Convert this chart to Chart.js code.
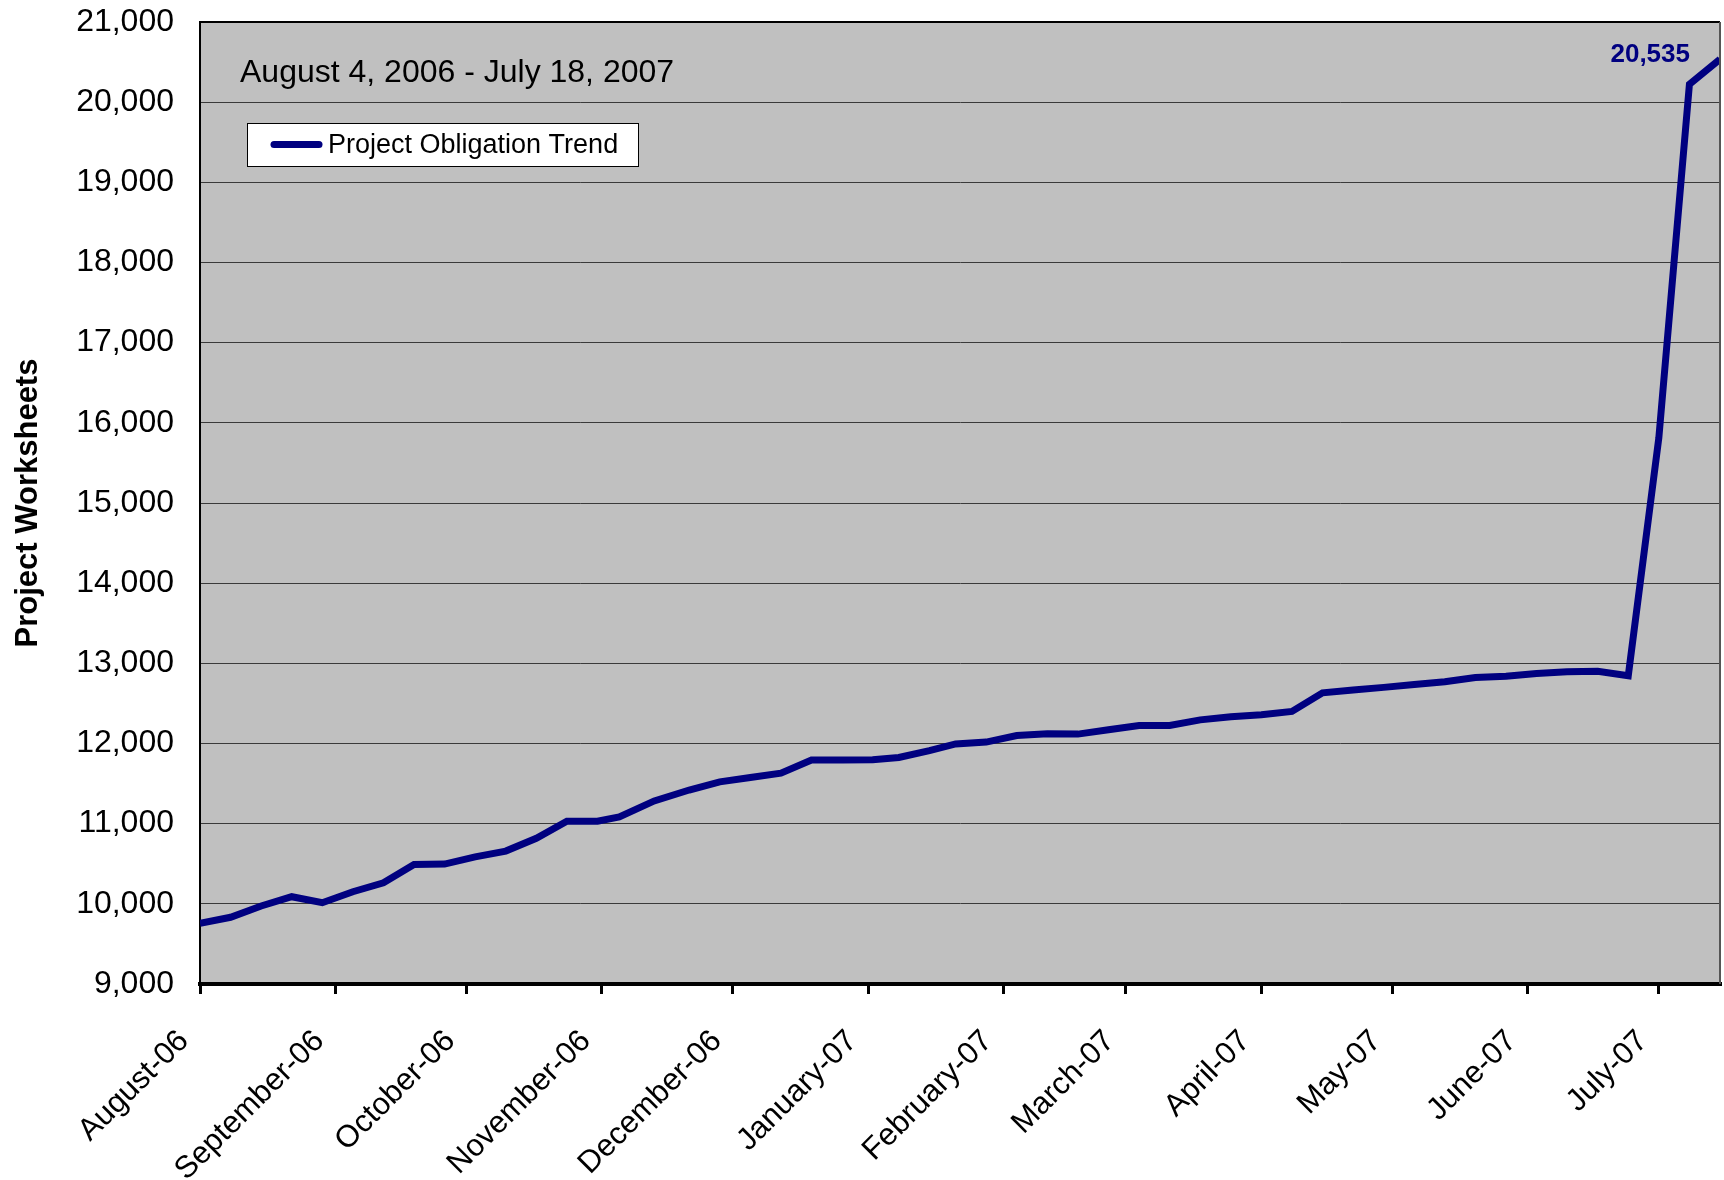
<!DOCTYPE html>
<html>
<head>
<meta charset="utf-8">
<script src="https://cdn.jsdelivr.net/npm/chart.js@4.4.0/dist/chart.umd.min.js"></script>
<style>
  html, body { margin: 0; padding: 0; background: #ffffff; }
  canvas { display: block; }
</style>
</head>
<body>
<canvas id="c" width="1724" height="1180"></canvas>
<script>
// ---- data ----
const subtitle = "August 4, 2006 - July 18, 2007";
const seriesName = "Project Obligation Trend";
const yTitle = "Project Worksheets";
// days since August 4, 2006
const days = [0,7,14,21,28,35,42,49,56,63,70,77,84,91,96,104,112,119,126,133,140,147,154,160,167,173,180,187,194,201,208,215,222,229,236,243,250,257,264,271,278,285,292,299,306,313,320,327,334,341,348];
const values = [9757,9832,9973,10089,10014,10151,10263,10490,10496,10585,10658,10817,11030,11030,11083,11284,11420,11522,11575,11630,11793,11793,11796,11825,11910,11995,12018,12100,12122,12117,12172,12225,12225,12295,12333,12360,12400,12632,12666,12700,12735,12770,12824,12840,12874,12894,12900,12845,15814,20223,20535];
const monthLabels = ['August-06','September-06','October-06','November-06','December-06','January-07','February-07','March-07','April-07','May-07','June-07','July-07'];
const monthTickDays = [0,31,61,92,122,153,184,212,243,273,304,334];
const yMin = 9000, yMax = 21000, yStep = 1000;

const FONT = "'Liberation Sans', Arial, sans-serif";
const NAVY = '#000080';

const plotDeco = {
  id: 'plotDeco',
  beforeDraw(chart) {
    const {ctx, chartArea: a} = chart;
    ctx.save();
    ctx.fillStyle = '#C0C0C0';
    ctx.fillRect(a.left, a.top, a.right - a.left, a.bottom - a.top);
    ctx.restore();
  },
  afterDatasetsDraw(chart) {
    const {ctx, chartArea: a} = chart;
    ctx.save();
    // top / right frame
    ctx.strokeStyle = '#000';
    ctx.lineWidth = 2;
    ctx.beginPath();
    ctx.moveTo(a.left, a.top);
    ctx.lineTo(a.right, a.top);
    ctx.stroke();
    ctx.strokeStyle = '#555';
    ctx.beginPath();
    ctx.moveTo(a.right, a.top);
    ctx.lineTo(a.right, a.bottom);
    ctx.stroke();

    // subtitle
    ctx.fillStyle = '#000';
    ctx.font = "32px " + FONT;
    ctx.textAlign = 'left';
    ctx.textBaseline = 'middle';
    ctx.fillText(subtitle, a.left + 40, a.top + 51);

    // legend box
    const bx = a.left + 47, by = a.top + 101, bw = 391, bh = 43;
    ctx.fillStyle = '#fff';
    ctx.fillRect(bx, by, bw, bh);
    ctx.strokeStyle = '#000';
    ctx.lineWidth = 1;
    ctx.strokeRect(bx + 0.5, by + 0.5, bw, bh);
    ctx.strokeStyle = NAVY;
    ctx.lineWidth = 7;
    ctx.lineCap = 'round';
    ctx.beginPath();
    ctx.moveTo(bx + 27, by + bh / 2);
    ctx.lineTo(bx + 72, by + bh / 2);
    ctx.stroke();
    ctx.fillStyle = '#000';
    ctx.font = "27px " + FONT;
    ctx.textBaseline = 'middle';
    ctx.fillText(chart.data.datasets[0].label, bx + 81, by + bh / 2 + 1);

    // last value label
    const meta = chart.getDatasetMeta(0);
    const last = meta.data[meta.data.length - 1];
    const v = values[values.length - 1];
    ctx.fillStyle = NAVY;
    ctx.font = "bold 26px " + FONT;
    ctx.textAlign = 'right';
    ctx.textBaseline = 'middle';
    ctx.fillText(v.toLocaleString('en-US'), last.x - 30, last.y - 4);
    ctx.restore();
  }
};

new Chart(document.getElementById('c'), {
  type: 'line',
  data: {
    datasets: [{
      label: seriesName,
      data: days.map((d, i) => ({x: d, y: values[i]})),
      borderColor: NAVY,
      backgroundColor: NAVY,
      borderWidth: 7,
      pointRadius: 0,
      tension: 0,
      fill: false
    }]
  },
  options: {
    responsive: false,
    animation: false,
    devicePixelRatio: 1,
    layout: { padding: { top: 22, right: 4, left: 0, bottom: 0 } },
    plugins: { legend: { display: false }, tooltip: { enabled: false } },
    scales: {
      x: {
        type: 'linear',
        min: days[0],
        max: days[days.length - 1],
        afterBuildTicks: (scale) => { scale.ticks = monthTickDays.map(v => ({value: v})); },
        afterFit: (scale) => { scale.height = 196; scale.paddingRight = 0; scale.paddingLeft = 0; },
        ticks: {
          autoSkip: false,
          maxRotation: 45,
          minRotation: 45,
          padding: 29,
          labelOffset: -16,
          color: '#000',
          font: { family: FONT, size: 31 },
          callback: (value) => monthLabels[monthTickDays.indexOf(value)]
        },
        grid: { drawOnChartArea: false, drawTicks: true, tickLength: 10, color: '#000', lineWidth: 3 },
        border: { display: true, color: '#000', width: 4 }
      },
      y: {
        min: yMin,
        max: yMax,
        afterFit: (scale) => { scale.width = 200; scale.paddingTop = 0; scale.paddingBottom = 0; },
        ticks: {
          stepSize: yStep,
          padding: 26,
          color: '#000',
          font: { family: FONT, size: 32 },
          callback: (value) => value.toLocaleString('en-US')
        },
        grid: { drawTicks: false, color: '#3a3a3a', lineWidth: 1 },
        border: { display: true, color: '#000', width: 2 },
        title: {
          display: true,
          text: yTitle,
          color: '#000',
          font: { family: FONT, size: 31, weight: 'bold' },
          padding: { top: 10, bottom: 0 }
        }
      }
    }
  },
  plugins: [plotDeco]
});
</script>
</body>
</html>
